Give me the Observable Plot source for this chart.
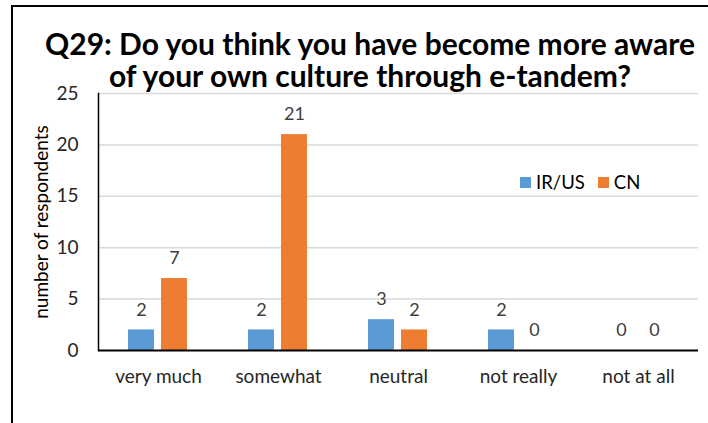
<!DOCTYPE html>
<html>
<head>
<meta charset="utf-8">
<script src="https://cdn.jsdelivr.net/npm/d3@7"></script>
<script src="https://cdn.jsdelivr.net/npm/@observablehq/plot@0.6"></script>
<style>
  html, body { margin: 0; padding: 0; background: #fff; }
  #wrap { position: relative; width: 708px; height: 423px; overflow: hidden; font-family: Lato, "Open Sans", sans-serif; }
  #border { position: absolute; left: 11px; top: 5px; width: 740px; height: 460px; border: 2px solid #000; box-sizing: border-box; }
  #title { position: absolute; left: 0; width: 740px; top: 27px; text-align: center; font-weight: bold; font-size: 30px; line-height: 32px; color: #000; }
  #ylabel { position: absolute; left: 40px; top: 222px; transform: translate(-50%, -50%) rotate(-90deg); white-space: nowrap; font-size: 19px; color: #000; }
  #legend { position: absolute; left: 520px; top: 171px; display: flex; align-items: center; font-size: 18.5px; color: #000; }
  #legend .sw { display: inline-block; width: 11px; height: 11px; margin-right: 5px; }
  #legend .item { display: flex; align-items: center; margin-right: 13px; }
  #chart { position: absolute; left: 0; top: 0; }
</style>
</head>
<body>
<div id="wrap">
  <div id="border"></div>
  <div id="chart"></div>
  <div id="title"></div>
  <div id="ylabel"></div>
  <div id="legend"></div>
</div>
<script>
const titleLines = ["Q29: Do you think you have become more aware", "of your own culture through e-tandem?"];
const yLabel = "number of respondents";
const categories = ["very much", "somewhat", "neutral", "not really", "not at all"];
const series = ["IR/US", "CN"];
const colors = ["#5b9bd5", "#ed7d31"];
const irus = [2, 2, 3, 2, 0];
const cn = [7, 21, 2, 0, 0];
const yTicks = [0, 5, 10, 15, 20, 25];

const values = [irus, cn];
const rows = [];
categories.forEach((c, i) => series.forEach((s, j) => rows.push({cat: c, series: s, value: values[j][i]})));

document.getElementById("title").innerHTML = titleLines.join("<br>");
document.getElementById("ylabel").textContent = yLabel;
document.getElementById("legend").innerHTML = series.map((s, j) =>
  `<span class="item"><span class="sw" style="background:${colors[j]}"></span>${s}</span>`).join("");

const plot = Plot.plot({
  width: 708,
  height: 423,
  marginLeft: 98,
  marginRight: 10,
  marginTop: 93,
  marginBottom: 73,
  style: {fontFamily: "Lato, 'Open Sans', sans-serif", background: "transparent", overflow: "visible"},
  fx: {domain: categories, padding: 0, label: null},
  x: {domain: series, paddingInner: 0.2, paddingOuter: 0.87, axis: null},
  y: {domain: [0, 25], label: null},
  color: {domain: series, range: colors},
  marks: [
    Plot.gridY(yTicks.filter(d => d > 0), {stroke: "#d9d9d9", strokeOpacity: 1, strokeWidth: 1.5}),
    Plot.barY(rows, {fx: "cat", x: "series", y: "value", fill: "series"}),
    Plot.text(rows, {fx: "cat", x: "series", y: "value", text: d => String(d.value), dy: -20, fontSize: 18, fill: "#404040"}),
    Plot.ruleY([0], {stroke: "#000", strokeWidth: 2}),
    Plot.frame({anchor: "left", facetAnchor: "left", stroke: "#000", strokeWidth: 1.5}),
    Plot.axisY({ticks: yTicks, tickSize: 0, tickPadding: 20, fontSize: 19, label: null, fill: "#262626"}),
    Plot.axisFx({anchor: "bottom", tickSize: 0, tickPadding: 19, fontSize: 19, label: null, fill: "#262626"})
  ]
});
document.getElementById("chart").appendChild(plot);
</script>
</body>
</html>
